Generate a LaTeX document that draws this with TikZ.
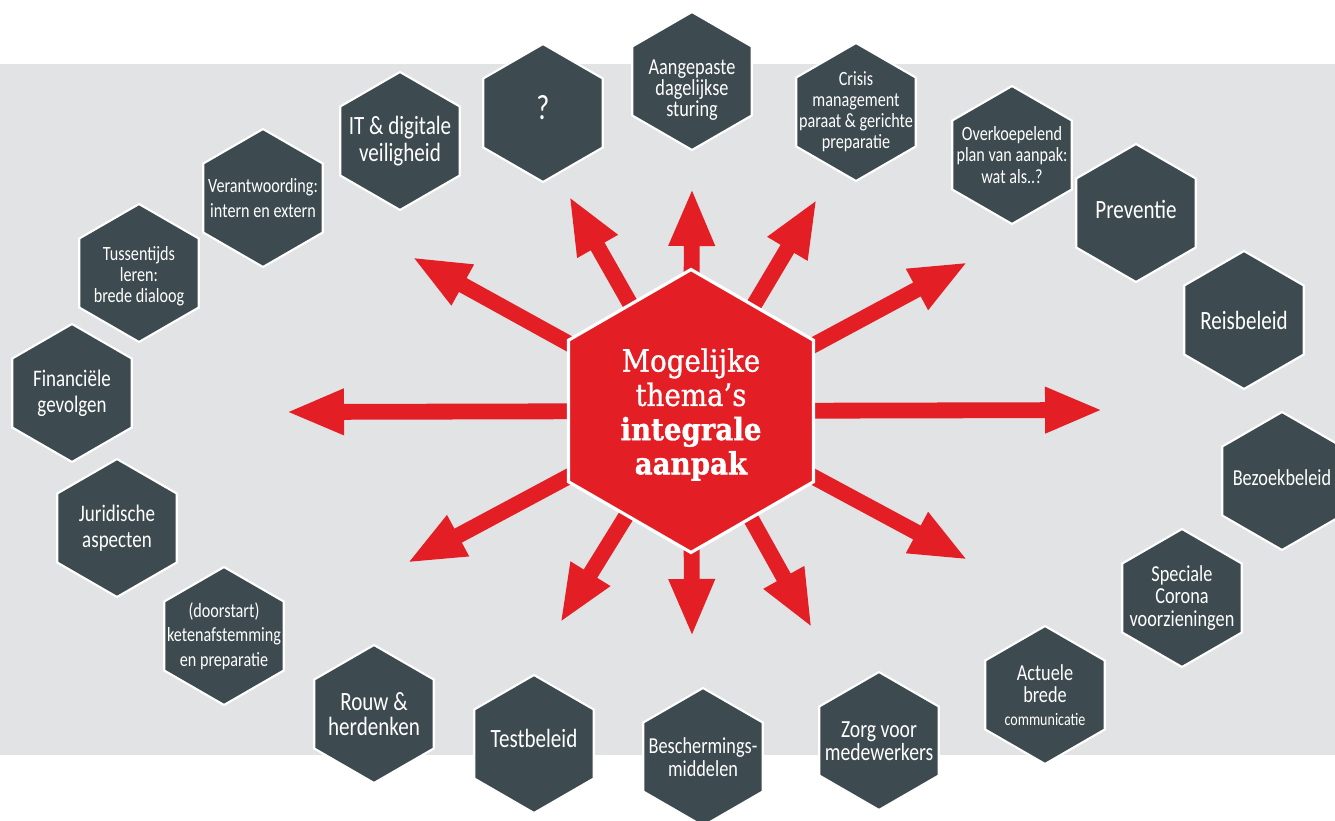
\documentclass[tikz,border=0pt]{standalone}
\usepackage{fontspec}
\setmainfont{Carlito}[FakeStretch=0.8]
\newfontfamily\slabfont{DejaVu Serif}[FakeStretch=0.9,FakeBold=1]
\newfontfamily\slabbold{DejaVu Serif Bold}[FakeStretch=0.9,FakeBold=1]
\usetikzlibrary{shapes.geometric,arrows.meta}

\definecolor{hexgray}{HTML}{3D4A50}
\definecolor{bandgray}{HTML}{E2E3E5}
\definecolor{hubred}{HTML}{E31E24}

\begin{document}
\begin{tikzpicture}[
  x=0.02cm, y=-0.02cm,
  cell/.style={regular polygon, regular polygon sides=6, shape border rotate=30,
    minimum size=2.76cm, inner sep=0pt, fill=hexgray, draw=white, line width=1.2pt},
  celltxt/.style={text=white, align=center, inner sep=0pt},
  bigtxt/.style={celltxt, font=\fontsize{15}{15.5}\selectfont},
  midtxt/.style={celltxt, font=\fontsize{13}{13}\selectfont},
  smalltxt/.style={celltxt, font=\fontsize{11.5}{12}\selectfont},
  hubcell/.style={regular polygon, regular polygon sides=6, shape border rotate=30,
    minimum size=5.66cm, inner sep=0pt, fill=hubred, draw=white, line width=1.8pt},
  hubtxt/.style={celltxt, font=\slabfont\fontsize{17.5}{19.5}\selectfont},
  ray/.style={draw=hubred, line width=9pt, -{Triangle[length=33pt,width=24pt]}}
]
\useasboundingbox (0,0) rectangle (1335,821);
\fill[white] (0,0) rectangle (1335,821);
\fill[bandgray] (0,64) rectangle (1335,755);

% arrow ends
\coordinate (hub) at (691,411);
\coordinate (tipW) at (286,412);
\coordinate (tipE) at (1103,410);
\coordinate (tipN) at (692,188);
\coordinate (tipS) at (692,637);
\coordinate (tipNNW) at (569,196);
\coordinate (tipNNE) at (817,199);
\coordinate (tipWNW) at (412,257);
\coordinate (tipENE) at (968,262);
\coordinate (tipWSW) at (407,563);
\coordinate (tipESE) at (968,560);
\coordinate (tipSSW) at (560,623);
\coordinate (tipSSE) at (812,628);

\draw[ray] (hub) -- (tipW);
\draw[ray] (hub) -- (tipE);
\draw[ray] (hub) -- (tipN);
\draw[ray] (hub) -- (tipS);
\draw[ray] (hub) -- (tipNNW);
\draw[ray] (hub) -- (tipNNE);
\draw[ray] (hub) -- (tipWNW);
\draw[ray] (hub) -- (tipENE);
\draw[ray] (hub) -- (tipWSW);
\draw[ray] (hub) -- (tipESE);
\draw[ray] (hub) -- (tipSSW);
\draw[ray] (hub) -- (tipSSE);

\node[hubcell, label={[hubtxt, yshift=-2pt]center:{Mogelijke\\thema’s\\{\slabbold integrale}\\{\slabbold aanpak}}}] (core) at (hub) {};

% themes, clockwise from the top
\node[cell, label={[celltxt, font=\fontsize{20}{20}\selectfont, yshift=3pt]center:?}] (ask) at (543,113) {};
\node[cell, label={[midtxt, font=\fontsize{13}{12}\selectfont, yshift=-5pt]center:{Aangepaste\\dagelijkse\\sturing}}] (steer) at (692,81) {};
\node[cell, label={[smalltxt]center:{Crisis\\management\\paraat \& gerichte\\preparatie}}] (crisis) at (856,112) {};
\node[cell, label={[smalltxt]center:{Overkoepelend\\plan van aanpak:\\wat als..?}}] (plan) at (1012,155) {};
\node[cell, label={[bigtxt, yshift=2pt]center:Preventie}] (prev) at (1136,213) {};
\node[cell, label={[bigtxt]center:Reisbeleid}] (travel) at (1244,320) {};
\node[cell, label={[midtxt, yshift=2pt]center:Bezoekbeleid}] (visit) at (1282,481) {};
\node[cell, label={[midtxt]center:{Speciale\\Corona\\voorzieningen}}] (corona) at (1182,598) {};
\node[cell, label={[midtxt]center:{Actuele\\brede\\{\fontsize{10}{12}\selectfont communicatie}}}] (comms) at (1045,695) {};
\node[cell, label={[midtxt, font=\fontsize{14}{13}\selectfont]center:{Zorg voor\\medewerkers}}] (staff) at (879,741) {};
\node[cell, label={[midtxt]center:{Beschermings-\\middelen}}] (gear) at (703,757) {};
\node[cell, label={[bigtxt, yshift=3pt]center:Testbeleid}] (test) at (534,744) {};
\node[cell, label={[bigtxt, font=\fontsize{15}{14}\selectfont]center:{Rouw \&\\herdenken}}] (grief) at (374,714) {};
\node[cell, label={[smalltxt, font=\fontsize{11.5}{14}\selectfont]center:{(doorstart)\\ketenafstemming\\en preparatie}}] (chain) at (224,636) {};
\node[cell, label={[midtxt, font=\fontsize{13.5}{14.5}\selectfont]center:{Juridische\\aspecten}}] (legal) at (117,528) {};
\node[cell, label={[midtxt, font=\fontsize{13.5}{15}\selectfont]center:{Financiële\\gevolgen}}] (money) at (72,393) {};
\node[cell, label={[smalltxt, yshift=-2pt]center:{Tussentijds\\leren:\\brede dialoog}}] (learn) at (139,273) {};
\node[cell, label={[smalltxt, font=\fontsize{11.5}{14}\selectfont]center:{Verantwoording:\\intern en extern}}] (account) at (263,198) {};
\node[cell, label={[bigtxt, font=\fontsize{15}{15}\selectfont]center:{IT \& digitale\\veiligheid}}] (itsec) at (400,141) {};
\end{tikzpicture}
\end{document}
